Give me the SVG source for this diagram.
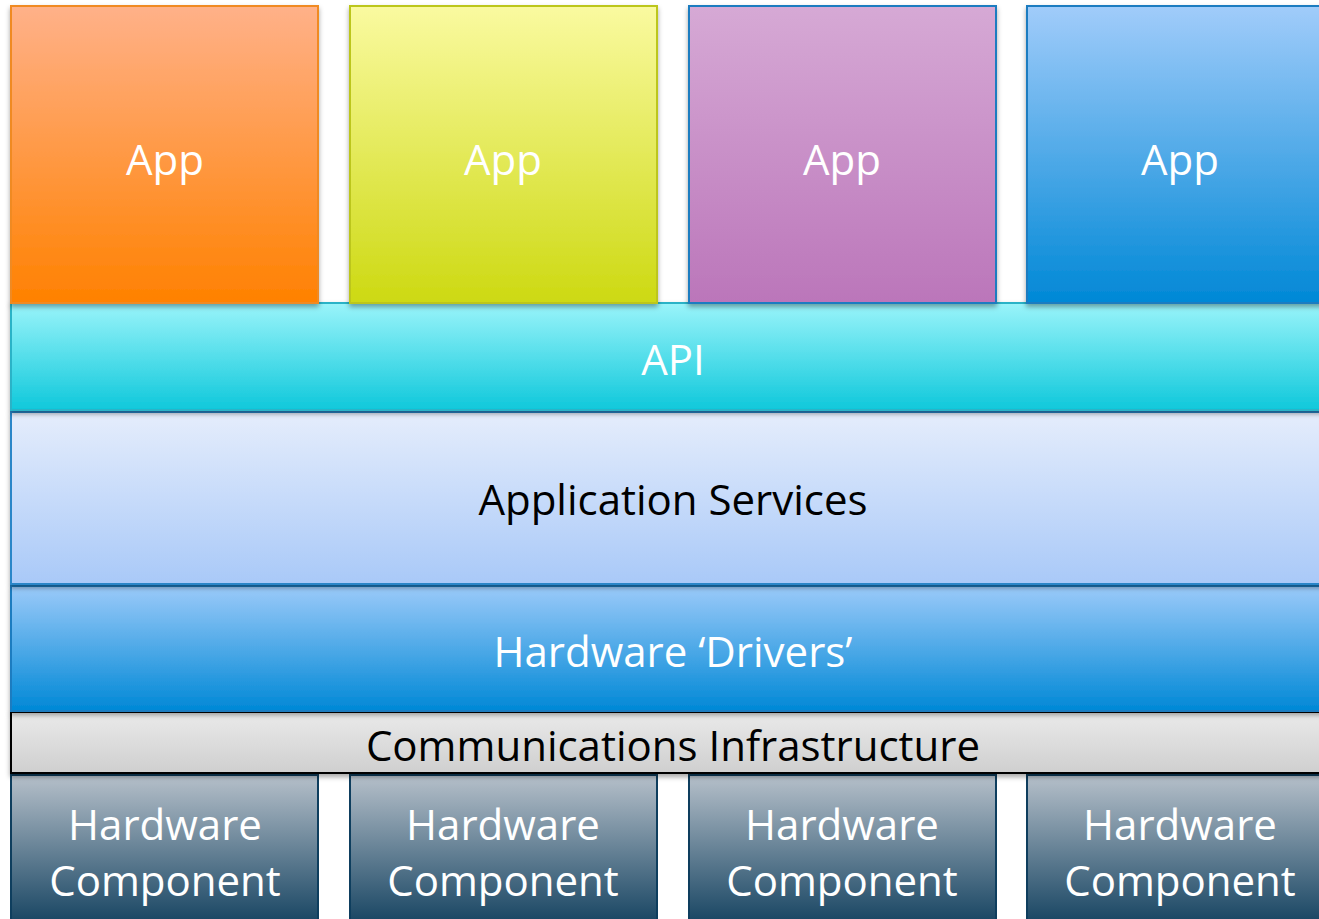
<svg xmlns="http://www.w3.org/2000/svg" width="1319" height="919" viewBox="0 0 1319 919">
<defs>
<linearGradient id="gOrange" x1="0" y1="0" x2="0" y2="1"><stop offset="0" stop-color="#FFB189"/><stop offset="1" stop-color="#FF8100"/></linearGradient>
<linearGradient id="gYellow" x1="0" y1="0" x2="0" y2="1"><stop offset="0" stop-color="#FAFAA0"/><stop offset="1" stop-color="#CDD912"/></linearGradient>
<linearGradient id="gPurple" x1="0" y1="0" x2="0" y2="1"><stop offset="0" stop-color="#D6A9D5"/><stop offset="1" stop-color="#BB76BA"/></linearGradient>
<linearGradient id="gBlue" x1="0" y1="0" x2="0" y2="1"><stop offset="0" stop-color="#A1CCFA"/><stop offset="1" stop-color="#0088D6"/></linearGradient>
<linearGradient id="gApi" x1="0" y1="0" x2="0" y2="1"><stop offset="0" stop-color="#9AF4FA"/><stop offset="1" stop-color="#0FC8DB"/></linearGradient>
<linearGradient id="gSvc" x1="0" y1="0" x2="0" y2="1"><stop offset="0" stop-color="#E5EDFC"/><stop offset="1" stop-color="#A9C9F8"/></linearGradient>
<linearGradient id="gDrv" x1="0" y1="0" x2="0" y2="1"><stop offset="0" stop-color="#9BCAF9"/><stop offset="1" stop-color="#0088D6"/></linearGradient>
<linearGradient id="gComm" x1="0" y1="0" x2="0" y2="1"><stop offset="0" stop-color="#EAEAEA"/><stop offset="1" stop-color="#CFCFCF"/></linearGradient>
<linearGradient id="gHw" x1="0" y1="0" x2="0" y2="1"><stop offset="0" stop-color="#B6C0CA"/><stop offset="1" stop-color="#0B3B5A"/></linearGradient>
<filter id="sh" x="-5%" y="-5%" width="115%" height="120%"><feDropShadow dx="0" dy="3" stdDeviation="2.5" flood-color="#000" flood-opacity="0.35"/></filter>
<style>
.lbl{font-family:"Open Sans","Liberation Sans",sans-serif;font-size:42px;text-anchor:middle}
.w{fill:#FFFFFF}
.k{fill:#000000}
</style>
</defs>
<g id="layer-hw">
<g id="hw1"><rect x="11" y="775" width="307" height="160" fill="url(#gHw)" stroke="#0E3E5E" stroke-width="2"/><text class="lbl w" x="165" y="840">Hardware</text><text class="lbl w" x="165" y="896">Component</text></g>
<g id="hw2"><rect x="350" y="775" width="307" height="160" fill="url(#gHw)" stroke="#0E3E5E" stroke-width="2"/><text class="lbl w" x="503" y="840">Hardware</text><text class="lbl w" x="503" y="896">Component</text></g>
<g id="hw3"><rect x="689" y="775" width="307" height="160" fill="url(#gHw)" stroke="#0E3E5E" stroke-width="2"/><text class="lbl w" x="842" y="840">Hardware</text><text class="lbl w" x="842" y="896">Component</text></g>
<g id="hw4"><rect x="1027" y="775" width="307" height="160" fill="url(#gHw)" stroke="#0E3E5E" stroke-width="2"/><text class="lbl w" x="1180" y="840">Hardware</text><text class="lbl w" x="1180" y="896">Component</text></g>
</g>
<g id="comm"><rect x="11" y="712" width="1330" height="61" fill="url(#gComm)" stroke="#000" stroke-width="2" filter="url(#sh)"/><text class="lbl k" x="673" y="761">Communications Infrastructure</text></g>
<g id="drivers"><rect x="11" y="586" width="1330" height="125" fill="url(#gDrv)" stroke="#1C7CC0" stroke-width="2" filter="url(#sh)"/><text class="lbl w" x="673" y="667">Hardware ‘Drivers’</text></g>
<g id="services"><rect x="11" y="412" width="1330" height="172" fill="url(#gSvc)" stroke="#2A86C8" stroke-width="2" filter="url(#sh)"/><text class="lbl k" x="673" y="515">Application Services</text></g>
<g id="api"><rect x="11" y="303" width="1330" height="107" fill="url(#gApi)" stroke="#2AB3C7" stroke-width="2" filter="url(#sh)"/><text class="lbl w" x="673" y="375">API</text></g>
<g id="apps">
<g id="app1"><rect x="11" y="6" width="307" height="297" fill="url(#gOrange)" stroke="#F08A24" stroke-width="2" filter="url(#sh)"/><text class="lbl w" x="165" y="175">App</text></g>
<g id="app2"><rect x="350" y="6" width="307" height="297" fill="url(#gYellow)" stroke="#BCC61A" stroke-width="2" filter="url(#sh)"/><text class="lbl w" x="503" y="175">App</text></g>
<g id="app3"><rect x="689" y="6" width="307" height="297" fill="url(#gPurple)" stroke="#1C7CC0" stroke-width="2" filter="url(#sh)"/><text class="lbl w" x="842" y="175">App</text></g>
<g id="app4"><rect x="1027" y="6" width="307" height="297" fill="url(#gBlue)" stroke="#1C7CC0" stroke-width="2" filter="url(#sh)"/><text class="lbl w" x="1180" y="175">App</text></g>
</g>
<g id="connectors"/>
</svg>
